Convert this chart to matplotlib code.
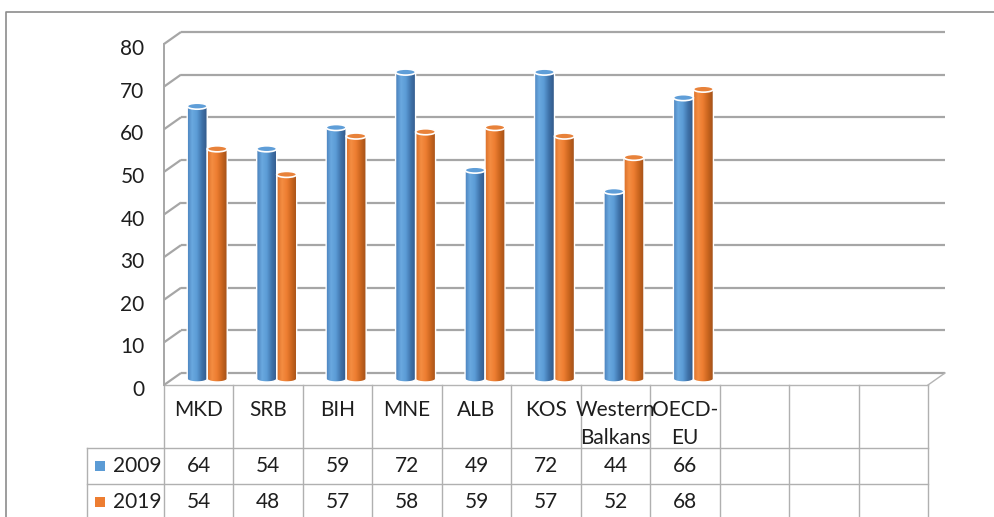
import numpy as np
import matplotlib
matplotlib.use('Agg')
import matplotlib.pyplot as plt
from matplotlib.patches import Ellipse, PathPatch, Rectangle
from matplotlib.path import Path
from matplotlib import transforms
from matplotlib.colors import LinearSegmentedColormap

# ─── Data ────────────────────────────────────────────────
categories = ['MKD', 'SRB', 'BIH', 'MNE', 'ALB', 'KOS', 'Western\nBalkans', 'OECD-\nEU']
series     = ['2009', '2019']
vals_2009  = [64, 54, 59, 72, 49, 72, 44, 66]
vals_2019  = [54, 48, 57, 58, 59, 57, 52, 68]
n_slots    = 11          # three empty columns on the right
yticks     = list(range(0, 81, 10))

plt.rcParams['font.family'] = ['Lato', 'DejaVu Sans']
TXT = '#1e1e1e'
FS = 15

# ─── Layout (pixels) ─────────────────────────────────────
W, H = 995, 517
AX_L, AX_R, AX_T, AX_B = 164, 928, 44, 385
TABLE_L = 87
ROWS_Y  = [385, 448, 484, 530]
px_per_slot = (AX_R - AX_L) / n_slots
px_per_unit = (AX_B - AX_T) / 80
DX = 17 / px_per_slot          # depth offset of back wall, in slots
DY = 12 / px_per_unit          # depth offset of back wall, in value units

fig = plt.figure(figsize=(W / 100, H / 100), dpi=100)
ov = fig.add_axes([0, 0, 1, 1])
ov.axis('off')

ax = fig.add_axes([AX_L / W, 1 - AX_B / H, (AX_R - AX_L) / W, (AX_B - AX_T) / H])
ax.patch.set_visible(False)

# ─── Walls and gridlines ─────────────────────────────────
grid_kw = dict(color='#a6a6a6', lw=1.6, clip_on=False, zorder=1, solid_capstyle='butt')
for v in yticks:
    ax.plot([DX, n_slots + DX], [v + DY, v + DY], **grid_kw)
    ax.plot([0, DX], [v, v + DY], **grid_kw)
floor_kw = dict(color='#b4b4b4', lw=1.0, clip_on=False, zorder=1)
ax.plot([0, n_slots], [0, 0], **floor_kw)
ax.plot([n_slots, n_slots + DX], [0, DY], **floor_kw)

# ─── Cylinders ───────────────────────────────────────────
cmap_blue = LinearSegmentedColormap.from_list(
    'b', ['#4a80bb', '#6aa9e0', '#5b9bd5', '#3f73aa', '#33598a'])
cmap_orng = LinearSegmentedColormap.from_list(
    'o', ['#d9702a', '#f48d42', '#ed7d31', '#c9651e', '#a4521a'])
grad = np.linspace(0, 1, 64)[None, :]


def cylinder(xc, top, w, base, eh, cmap, top_color):
    t = np.linspace(np.pi, 2 * np.pi, 40)
    bx = xc + w / 2 * np.cos(t)
    by = base + eh / 2 * np.sin(t)
    verts = [(xc - w / 2, top)] + list(zip(bx, by)) + [(xc + w / 2, top), (xc - w / 2, top)]
    codes = [Path.MOVETO] + [Path.LINETO] * (len(verts) - 2) + [Path.CLOSEPOLY]
    body = PathPatch(Path(verts, codes), facecolor='none', edgecolor='white',
                     lw=1.0, zorder=3, clip_on=False)
    ax.add_patch(body)
    im = ax.imshow(grad, extent=(xc - w / 2, xc + w / 2, base - eh / 2, top),
                   cmap=cmap, aspect='auto', interpolation='bilinear', zorder=2.9)
    im.set_clip_path(body)
    ax.add_patch(Ellipse((xc, top), w, eh, facecolor=top_color, edgecolor='white',
                         lw=1.2, zorder=4, clip_on=False))


bw = 20 / px_per_slot
eh = 6 / px_per_unit
base = DY / 2
for i in range(len(categories)):
    xc = i + 0.5 + DX / 2
    cylinder(xc - bw / 2, vals_2009[i] + base, bw, base, eh, cmap_blue, '#5f9ed8')
    cylinder(xc + bw / 2, vals_2019[i] + base, bw, base, eh, cmap_orng, '#e8823a')

ax.set_xlim(0, n_slots)
ax.set_ylim(0, 80)
for s in ['top', 'right', 'bottom']:
    ax.spines[s].set_visible(False)
ax.spines['left'].set_color('#a6a6a6')
ax.spines['left'].set_linewidth(1.4)
ax.set_xticks([])
ax.set_yticks(yticks)
ax.tick_params(axis='y', length=0, pad=14, labelsize=FS, labelcolor=TXT)
shift = transforms.ScaledTranslation(0, -3 / 100, fig.dpi_scale_trans)
for lbl in ax.get_yticklabels():
    lbl.set_transform(lbl.get_transform() + shift)

# ─── Data table ──────────────────────────────────────────
blend = transforms.blended_transform_factory(ax.transData, ov.transData)
line_kw = dict(color='#b0b0b0', lw=1.0)
for k in range(n_slots + 1):
    ov.plot([k, k], [ROWS_Y[0], ROWS_Y[-1]], transform=blend, **line_kw)
for y in ROWS_Y[1:3]:
    ov.plot([TABLE_L, AX_R], [y, y], **line_kw)
ov.plot([TABLE_L, TABLE_L], [ROWS_Y[1], ROWS_Y[-1]], **line_kw)

for i, cat in enumerate(categories):
    ov.text(i + 0.5, 400, cat, transform=blend, ha='center', va='top',
            fontsize=FS, color=TXT, linespacing=1.5)

row_colors = ['#5b9bd5', '#ed7d31']
for r, (name, vals, col) in enumerate(zip(series, [vals_2009, vals_2019], row_colors)):
    cy = (ROWS_Y[r + 1] + min(ROWS_Y[r + 2], 520)) / 2 - 0.5
    ov.add_patch(Rectangle((95, cy - 5), 10, 10, facecolor=col, edgecolor='none'))
    ov.text(113, cy, name, ha='left', va='center', fontsize=FS, color=TXT)
    for i, v in enumerate(vals):
        ov.text(i + 0.5, cy, str(v), transform=blend, ha='center', va='center',
                fontsize=FS, color=TXT)

# outer frame
ov.plot([6, 6, W + 5], [H + 5, 12, 12], color='#8c8c8c', lw=1.2)

ov.set_xlim(0, W)
ov.set_ylim(H, 0)

fig.savefig('out.png', dpi=100)
